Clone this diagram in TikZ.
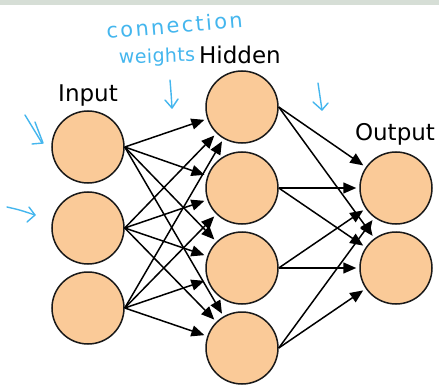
\documentclass[tikz,border=0pt]{standalone}
\usepackage{fontspec}
\setmainfont{DejaVu Sans}
\newfontfamily\handfont[LetterSpace=11]{DejaVu Sans}
\newfontfamily\handfonttight[LetterSpace=2]{DejaVu Sans}
\usetikzlibrary{arrows.meta}
\definecolor{peach}{RGB}{250,202,152}
\definecolor{ink}{RGB}{68,182,238}
\definecolor{strip}{RGB}{214,222,214}

\begin{document}
\begin{tikzpicture}[x=1pt,y=-1pt,
  neuron/.style={circle,draw=black!90,line width=1.5pt,fill=peach,minimum size=72pt,inner sep=0pt},
  conn/.style={-{Triangle[length=13pt,width=11pt]},line width=1.5pt,shorten >=3pt},
  layerlabel/.style={font=\fontsize{23}{23}\selectfont,anchor=base,inner sep=0pt},
  pen/.style={draw=ink,line width=1.4pt,line cap=round,line join=round},
  note/.style={text=ink,anchor=base west,inner sep=0pt}
]
% canvas and top strip
\fill[white] (0,0) rectangle (439,385);
\fill[strip] (0,0) rectangle (439,5);
\useasboundingbox (0,0) rectangle (439,385);

% layers
\node[neuron] (i1) at (88,147) {};
\node[neuron] (i2) at (88,228) {};
\node[neuron] (i3) at (88,308) {};
\node[neuron] (h1) at (242,107) {};
\node[neuron] (h2) at (242,188) {};
\node[neuron] (h3) at (242,268) {};
\node[neuron] (h4) at (242,348) {};
\node[neuron] (o1) at (396,188) {};
\node[neuron] (o2) at (396,268) {};

% layer titles
\node[layerlabel] (tin) at (88,102) {Input};
\node[layerlabel] (thid) at (240,64) {Hidden};
\node[layerlabel] (tout) at (395,140) {Output};

% fully connected weights
\foreach \s in {i1,i2,i3}
  \foreach \t in {h1,h2,h3,h4}
    \draw[conn] (\s.east) -- (\t);
\foreach \s in {h1,h2,h3,h4}
  \foreach \t in {o1,o2}
    \draw[conn] (\s.east) -- (\t);

% handwritten notes
\node[note,rotate=5,font=\handfont\fontsize{21}{21}\selectfont] (n1) at (107,39) {connection};
\node[note,rotate=2,font=\handfonttight\fontsize{19}{19}\selectfont] (n2) at (119,64) {weights};

% hand-drawn arrows
\draw[pen] (170,80) .. controls (171,92) .. (172,108);
\draw[pen] (165,100) -- (172,108) -- (178,99);
\draw[pen] (318,83) .. controls (320,96) .. (322,110);
\draw[pen] (313,102) -- (322,110) -- (328,103);
\draw[pen] (25,115) -- (42,143);
\draw[pen] (35,122) -- (43,143) -- (32,144);
\draw[pen] (7,207) .. controls (20,210) .. (35,215);
\draw[pen] (29,207) -- (35,215) -- (27,222);
\end{tikzpicture}
\end{document}
